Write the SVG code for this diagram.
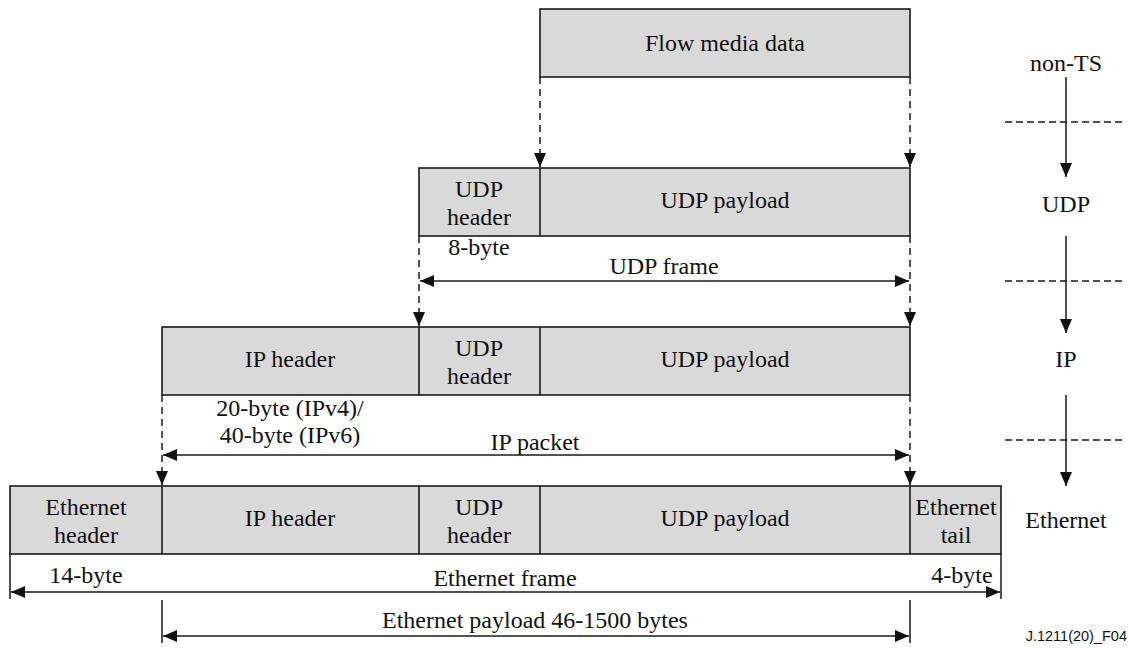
<svg xmlns="http://www.w3.org/2000/svg" width="1129" height="648" viewBox="0 0 1129 648">
  <style>
    .cell { fill: #d9d9d9; stroke: #1a1a1a; stroke-width: 1.6; }
    .div { stroke: #1a1a1a; stroke-width: 1.6; fill: none; }
    .t { font-family: 'Liberation Serif', 'Times New Roman', serif; font-size: 24px; fill: #111; text-anchor: middle; }
    .line { stroke: #1a1a1a; stroke-width: 1.5; fill: none; }
    .dash { stroke: #1a1a1a; stroke-width: 1.5; fill: none; stroke-dasharray: 7 5; }
    .sep { stroke: #1a1a1a; stroke-width: 1.5; fill: none; stroke-dasharray: 7 4; }
    .code { font-family: 'Liberation Sans', Arial, sans-serif; font-size: 14.5px; fill: #111; text-anchor: end; }
  </style>
  <defs>
    <marker id="ah" markerUnits="userSpaceOnUse" markerWidth="14" markerHeight="12" refX="14" refY="6" orient="auto-start-reverse" viewBox="0 0 14 12">
      <path d="M0,0 L14,6 L0,12 Z" fill="#111"/>
    </marker>
  </defs>

  <!-- Application layer: flow media data -->
  <g id="flow-media">
    <rect class="cell" x="540" y="9" width="370" height="68"/>
    <text class="t" x="725" y="51">Flow media data</text>
  </g>

  <!-- UDP layer -->
  <g id="udp-datagram">
    <rect class="cell" x="419" y="168" width="491" height="68"/>
    <line class="div" x1="540" y1="168" x2="540" y2="236"/>
    <text class="t" x="479" y="197">UDP</text>
    <text class="t" x="479" y="225">header</text>
    <text class="t" x="725" y="208">UDP payload</text>
  </g>

  <!-- IP layer -->
  <g id="ip-packet">
    <rect class="cell" x="162" y="327" width="748" height="68"/>
    <line class="div" x1="419" y1="327" x2="419" y2="395"/>
    <line class="div" x1="540" y1="327" x2="540" y2="395"/>
    <text class="t" x="290" y="367">IP header</text>
    <text class="t" x="479" y="356">UDP</text>
    <text class="t" x="479" y="384">header</text>
    <text class="t" x="725" y="367">UDP payload</text>
  </g>

  <!-- Ethernet layer -->
  <g id="ethernet-frame">
    <rect class="cell" x="10" y="486" width="991" height="68"/>
    <line class="div" x1="162" y1="486" x2="162" y2="554"/>
    <line class="div" x1="419" y1="486" x2="419" y2="554"/>
    <line class="div" x1="540" y1="486" x2="540" y2="554"/>
    <line class="div" x1="910" y1="486" x2="910" y2="554"/>
    <text class="t" x="86" y="515">Ethernet</text>
    <text class="t" x="86" y="543">header</text>
    <text class="t" x="290" y="526">IP header</text>
    <text class="t" x="479" y="515">UDP</text>
    <text class="t" x="479" y="543">header</text>
    <text class="t" x="725" y="526">UDP payload</text>
    <text class="t" x="956" y="515">Ethernet</text>
    <text class="t" x="956" y="543">tail</text>
  </g>

  <!-- Layer labels on the right -->
  <g id="layer-labels">
    <text class="t" x="1066" y="71">non-TS</text>
    <text class="t" x="1066" y="212">UDP</text>
    <text class="t" x="1066" y="367">IP</text>
    <text class="t" x="1066" y="528">Ethernet</text>
  </g>

  <!-- Size annotations -->
  <g id="size-labels">
    <text class="t" x="479" y="255">8-byte</text>
    <text class="t" x="664" y="274">UDP frame</text>
    <text class="t" x="290" y="416">20-byte (IPv4)/</text>
    <text class="t" x="290" y="443">40-byte (IPv6)</text>
    <text class="t" x="535" y="450">IP packet</text>
    <text class="t" x="86" y="583">14-byte</text>
    <text class="t" x="505" y="586">Ethernet frame</text>
    <text class="t" x="962" y="583">4-byte</text>
    <text class="t" x="535" y="628">Ethernet payload 46-1500 bytes</text>
  </g>

  <!-- Connectors -->
  <g id="connectors">
    <!-- encapsulation projections -->
    <line class="dash" x1="540" y1="77" x2="540" y2="167" marker-end="url(#ah)"/>
    <line class="dash" x1="910" y1="77" x2="910" y2="167" marker-end="url(#ah)"/>
    <line class="dash" x1="419" y1="236" x2="419" y2="326" marker-end="url(#ah)"/>
    <line class="dash" x1="910" y1="236" x2="910" y2="326" marker-end="url(#ah)"/>
    <line class="dash" x1="162" y1="395" x2="162" y2="485" marker-end="url(#ah)"/>
    <line class="dash" x1="910" y1="395" x2="910" y2="485" marker-end="url(#ah)"/>

    <!-- span arrows -->
    <line class="line" x1="420" y1="281" x2="909" y2="281" marker-start="url(#ah)" marker-end="url(#ah)"/>
    <line class="line" x1="163" y1="455" x2="909" y2="455" marker-start="url(#ah)" marker-end="url(#ah)"/>
    <line class="line" x1="11" y1="592" x2="1000" y2="592" marker-start="url(#ah)" marker-end="url(#ah)"/>
    <line class="line" x1="10" y1="554" x2="10" y2="599"/>
    <line class="line" x1="1001" y1="554" x2="1001" y2="599"/>
    <line class="line" x1="163" y1="636" x2="909" y2="636" marker-start="url(#ah)" marker-end="url(#ah)"/>
    <line class="line" x1="162" y1="600" x2="162" y2="643"/>
    <line class="line" x1="910" y1="600" x2="910" y2="643"/>

    <!-- layer flow on the right -->
    <line class="line" x1="1066" y1="77" x2="1066" y2="177" marker-end="url(#ah)"/>
    <line class="line" x1="1066" y1="236" x2="1066" y2="333" marker-end="url(#ah)"/>
    <line class="line" x1="1066" y1="395" x2="1066" y2="486" marker-end="url(#ah)"/>
    <line class="sep" x1="1005" y1="122" x2="1124" y2="122"/>
    <line class="sep" x1="1005" y1="281" x2="1124" y2="281"/>
    <line class="sep" x1="1005" y1="440" x2="1124" y2="440"/>
  </g>

  <text class="code" x="1127" y="641">J.1211(20)_F04</text>
</svg>
